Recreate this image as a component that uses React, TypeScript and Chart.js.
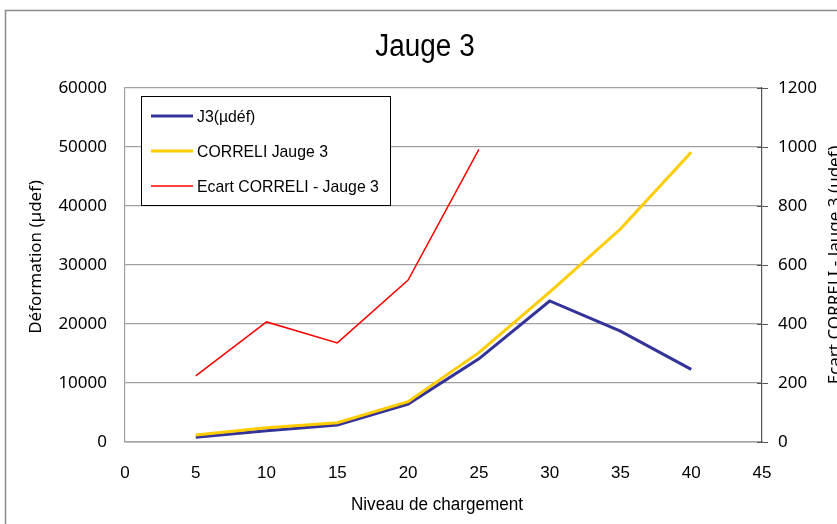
import React, { useEffect, useRef } from "react";
import { Chart, registerables } from "chart.js";

Chart.register(...registerables);

const chartTitle = "Jauge 3";
const xTitle = "Niveau de chargement";
const yTitle = "Déformation (µdef)";
const y1Title = "Ecart CORRELI - Jauge 3 (µdef)";

const levels = [5, 10, 15, 20, 25, 30, 35, 40];
const j3Values = [800, 1920, 2880, 6440, 14100, 23900, 18800, 12300];
const correliValues = [1190, 2430, 3280, 6830, 15140, 25400, 36100, 49100];
const ecartLevels = [5, 10, 15, 20, 25];
const ecartValues = [224, 407, 336, 549, 992];

const seriesNames = ["J3(µdéf)", "CORRELI Jauge 3", "Ecart CORRELI - Jauge 3"];
const seriesColors = ["#333399", "#FFCC00", "#FF0000"];
const seriesWidths = [3, 3, 1.5];

const SANS = "'Liberation Sans', Arial, sans-serif";
const TICKSANS = "'Noto Sans', 'Liberation Sans', sans-serif";

const plain = (v: any) => String(v);

const textPlugin = {
  id: "customText",
  beforeDraw(chart: any) {
    const ctx = chart.ctx;
    ctx.save();
    ctx.fillStyle = "#ffffff";
    ctx.fillRect(0, 0, chart.width, chart.height);
    ctx.strokeStyle = "#8c8c8c";
    ctx.lineWidth = 1.5;
    ctx.strokeRect(5.5, 10.5, 1000, 1000);
    ctx.restore();
  },
  afterDraw(chart: any) {
    const ctx = chart.ctx;
    const area = chart.chartArea;
    ctx.save();
    ctx.fillStyle = "#000";
    ctx.textAlign = "center";
    ctx.textBaseline = "middle";
    // Title
    ctx.font = `31px ${SANS}`;
    ctx.save();
    ctx.translate(425, 47);
    ctx.scale(0.9, 1);
    ctx.fillText(chartTitle, 0, 0);
    ctx.restore();
    // x title
    ctx.font = `18px ${SANS}`;
    ctx.save();
    ctx.translate(437, 505);
    ctx.scale(0.95, 1);
    ctx.fillText(xTitle, 0, 0);
    ctx.restore();
    // left y title
    ctx.font = `17px ${TICKSANS}`;
    ctx.save();
    ctx.translate(36, 257);
    ctx.rotate(-Math.PI / 2);
    ctx.fillText(yTitle, 0, 0);
    ctx.restore();
    // right y title
    ctx.save();
    ctx.translate(835, 265);
    ctx.rotate(-Math.PI / 2);
    ctx.fillText(y1Title, 0, 0);
    ctx.restore();

    // inward ticks on right axis
    const y1 = chart.scales.y1;
    ctx.strokeStyle = "#555";
    ctx.lineWidth = 1;
    y1.ticks.forEach((t: any) => {
      const py = Math.round(y1.getPixelForValue(t.value)) + 0.5;
      ctx.beginPath();
      ctx.moveTo(area.right - 5, py);
      ctx.lineTo(area.right, py);
      ctx.stroke();
    });

    // legend
    const lx = 141, ly = 96, lw = 249, lh = 109;
    ctx.fillStyle = "#fff";
    ctx.fillRect(lx, ly, lw, lh);
    ctx.strokeStyle = "#000";
    ctx.lineWidth = 1;
    ctx.strokeRect(lx + 0.5, ly + 0.5, lw, lh);
    const rows = [116, 151, 186];
    ctx.textAlign = "left";
    ctx.textBaseline = "middle";
    ctx.font = `17px ${SANS}`;
    seriesNames.forEach((name, i) => {
      ctx.strokeStyle = seriesColors[i];
      ctx.lineWidth = seriesWidths[i];
      ctx.beginPath();
      ctx.moveTo(151, rows[i]);
      ctx.lineTo(193, rows[i]);
      ctx.stroke();
      ctx.fillStyle = "#000";
      ctx.save();
      ctx.translate(197, rows[i] + 1);
      ctx.scale(0.93, 1);
      ctx.fillText(name, 0, 0);
      ctx.restore();
    });
    ctx.restore();
  },
};

export default function App() {
  const canvasRef = useRef<HTMLCanvasElement | null>(null);

  useEffect(() => {
    if (!canvasRef.current) return;
    const chart = new Chart(canvasRef.current, {
      type: "line",
      data: {
        datasets: [
          {
            label: seriesNames[0],
            data: levels.map((x, i) => ({ x, y: j3Values[i] })),
            borderColor: seriesColors[0],
            borderWidth: seriesWidths[0],
            pointRadius: 0,
            tension: 0,
            yAxisID: "y",
            order: 2,
          },
          {
            label: seriesNames[1],
            data: levels.map((x, i) => ({ x, y: correliValues[i] })),
            borderColor: seriesColors[1],
            borderWidth: seriesWidths[1],
            pointRadius: 0,
            tension: 0,
            yAxisID: "y",
            order: 1,
          },
          {
            label: seriesNames[2],
            data: ecartLevels.map((x, i) => ({ x, y: ecartValues[i] })),
            borderColor: seriesColors[2],
            borderWidth: seriesWidths[2],
            pointRadius: 0,
            tension: 0,
            yAxisID: "y1",
            order: 0,
          },
        ],
      },
      options: {
        responsive: false,
        animation: false,
        layout: { padding: { top: 88, left: 0, right: 0, bottom: 0 } },
        plugins: {
          legend: { display: false },
          title: { display: false },
          tooltip: { enabled: false },
        },
        scales: {
          x: {
            type: "linear",
            min: 0,
            max: 45,
            ticks: {
              stepSize: 5,
              color: "#000",
              padding: 21,
              font: { family: SANS, size: 17 },
              maxRotation: 0,
              callback: plain,
            },
            grid: { display: false, drawTicks: false },
            border: { display: true, color: "#a0a0a0", width: 1.5 },
            afterFit: (s: any) => {
              s.height = 82;
            },
          },
          y: {
            position: "left",
            min: 0,
            max: 60000,
            ticks: {
              stepSize: 10000,
              color: "#000",
              padding: 18,
              font: { family: TICKSANS, size: 17 },
              callback: plain,
            },
            grid: { color: "#a0a0a0", lineWidth: 1.2, drawTicks: false },
            border: { display: true, color: "#a0a0a0", width: 1.2 },
            afterFit: (s: any) => {
              s.width = 125;
            },
          },
          y1: {
            position: "right",
            min: 0,
            max: 1200,
            ticks: {
              stepSize: 200,
              color: "#000",
              padding: 10,
              font: { family: TICKSANS, size: 17 },
              callback: plain,
            },
            grid: { drawOnChartArea: false, color: "#555", tickLength: 6 },
            border: { display: true, color: "#555", width: 1.2 },
            afterFit: (s: any) => {
              s.width = 75;
            },
          },
        },
      },
      plugins: [textPlugin],
    });
    return () => chart.destroy();
  }, []);

  return (
    <div style={{ position: "absolute", left: 0, top: 0, width: 837, height: 524, overflow: "hidden" }}>
      <canvas ref={canvasRef} width={837} height={524} style={{ display: "block" }} />
    </div>
  );
}
